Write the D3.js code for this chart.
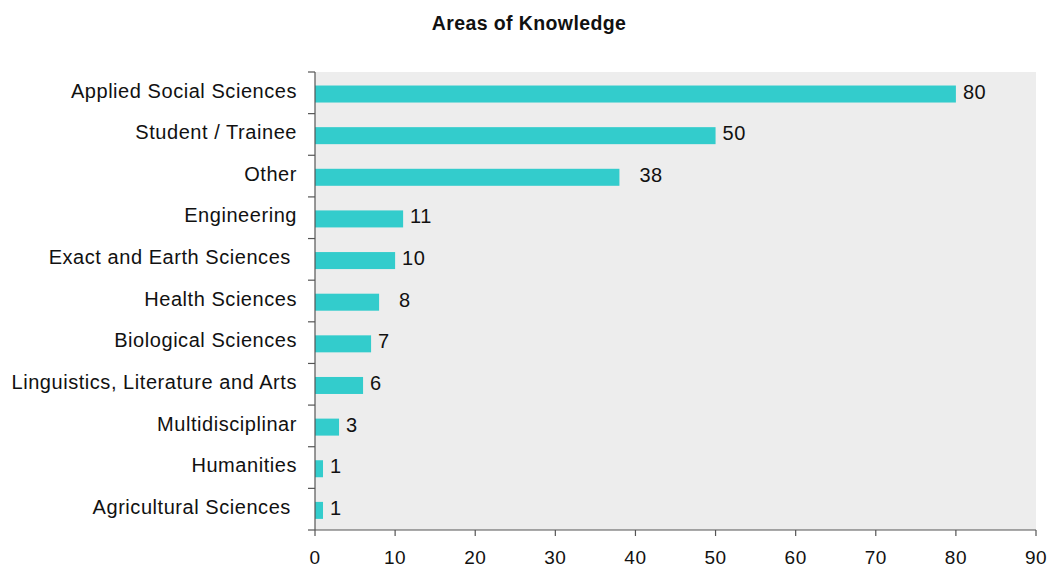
<!DOCTYPE html>
<html>
<head>
<meta charset="utf-8">
<script src="https://cdn.jsdelivr.net/npm/d3@7"></script>
<style>
  html, body { margin: 0; padding: 0; background: #fff; }
  svg text { font-family: "Liberation Sans", Arial, sans-serif; fill: #111; }
</style>
</head>
<body>
<svg id="chart" width="1050" height="568"></svg>
<script>
// Respondents by area of knowledge
const categories = [
  "Applied Social Sciences",
  "Student / Trainee",
  "Other",
  "Engineering",
  "Exact and Earth Sciences ",
  "Health Sciences",
  "Biological Sciences",
  "Linguistics, Literature and Arts",
  "Multidisciplinar",
  "Humanities",
  "Agricultural Sciences "
];
const counts = [80, 50, 38, 11, 10, 8, 7, 6, 3, 1, 1];
const xTicks = [0, 10, 20, 30, 40, 50, 60, 70, 80, 90];
const chartTitle = "Areas of Knowledge";

const svg = d3.select("#chart");
const plot = { left: 315, right: 1036, top: 72, bottom: 530 };

const x = d3.scaleLinear().domain([0, 90]).range([plot.left, plot.right]);
const y = d3.scaleBand().domain(categories).range([plot.top, plot.bottom]).padding(0);

// Plot background
svg.append("rect")
  .attr("x", plot.left).attr("y", plot.top)
  .attr("width", plot.right - plot.left).attr("height", plot.bottom - plot.top)
  .attr("fill", "#ededed");

// Title
svg.append("text")
  .attr("x", 529).attr("y", 30)
  .attr("text-anchor", "middle")
  .attr("font-size", 19.5).attr("font-weight", "bold")
  .style("letter-spacing", "0.4px")
  .text(chartTitle);

// Bars
const barH = 17;
svg.selectAll("rect.bar").data(categories).join("rect")
  .attr("class", "bar")
  .attr("x", x(0))
  .attr("y", (d) => y(d) + y.bandwidth() / 2 + 1.2 - barH / 2)
  .attr("width", (d, i) => x(counts[i]) - x(0))
  .attr("height", barH)
  .attr("fill", "#33cccc");

// Value labels (a couple sit a little further out)
const labelGap = { "Other": 20, "Health Sciences": 20 };
svg.selectAll("text.value").data(categories).join("text")
  .attr("class", "value")
  .attr("x", (d, i) => x(counts[i]) + (labelGap[d] || 7))
  .attr("y", (d) => y(d) + y.bandwidth() / 2 - 1.5)
  .attr("dy", "0.36em")
  .attr("font-size", 20)
  .style("letter-spacing", "0.5px")
  .text((d, i) => counts[i]);

// Category labels
svg.selectAll("text.cat").data(categories).join("text")
  .attr("class", "cat")
  .attr("x", 297)
  .attr("y", (d) => y(d) + y.bandwidth() / 2 - 2.5)
  .attr("dy", "0.36em")
  .attr("text-anchor", "end")
  .attr("font-size", 20)
  .style("letter-spacing", "0.55px")
  .style("white-space", "pre")
  .text((d) => d);

// Axes
const axisColor = "#555";
const axisG = svg.append("g").attr("stroke", axisColor).attr("stroke-width", 1.2);

axisG.append("line")
  .attr("x1", x(0)).attr("x2", x(0))
  .attr("y1", plot.top).attr("y2", plot.bottom);
axisG.append("line")
  .attr("x1", x(0)).attr("x2", x(90))
  .attr("y1", plot.bottom).attr("y2", plot.bottom);

// Y tick marks at band boundaries
const boundaries = categories.map((d) => y(d)).concat([y.range()[1]]);
axisG.selectAll("line.ytick").data(boundaries).join("line")
  .attr("class", "ytick")
  .attr("x1", x(0) - 7).attr("x2", x(0))
  .attr("y1", (d) => d).attr("y2", (d) => d);

// X tick marks and labels
axisG.selectAll("line.xtick").data(xTicks).join("line")
  .attr("class", "xtick")
  .attr("x1", (d) => x(d)).attr("x2", (d) => x(d))
  .attr("y1", plot.bottom).attr("y2", plot.bottom + 6);

svg.selectAll("text.xlab").data(xTicks).join("text")
  .attr("class", "xlab")
  .attr("x", (d) => x(d))
  .attr("y", 564)
  .attr("text-anchor", "middle")
  .attr("font-size", 19)
  .style("letter-spacing", "0.5px")
  .text((d) => d);
</script>
</body>
</html>
